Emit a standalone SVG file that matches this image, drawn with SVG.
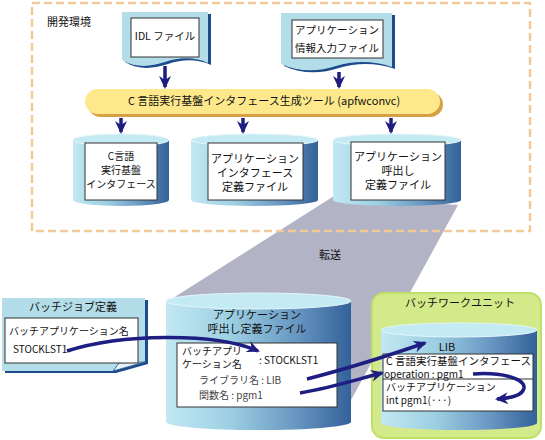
<svg xmlns="http://www.w3.org/2000/svg" width="545" height="440" viewBox="0 0 545 440">
<style>
text{font-family:"Noto Sans CJK JP","Noto Sans",sans-serif;fill:#111;}
.t11{font-size:11px;}
.t105{font-size:10.5px;}
.t10{font-size:10px;}
.mid{text-anchor:middle;}
.gray{fill:#444;}
.box{fill:#fff;stroke:#333;stroke-width:1;}
.docbg{fill:#b3dde8;}
.docsh{fill:#1d4b8c;}
.cylbody{fill:url(#cylGrad);}
.cyltop{fill:#c4eaf3;stroke:#e4f5f9;stroke-width:1;}
.arr{fill:none;stroke:#1e1e82;stroke-width:3.5;marker-end:url(#ah);}
</style>
<defs>
<linearGradient id="cylGrad" x1="0" y1="0" x2="1" y2="0">
<stop offset="0" stop-color="#c2e8f2"/>
<stop offset="0.35" stop-color="#9ccfe2"/>
<stop offset="0.7" stop-color="#6897c2"/>
<stop offset="1" stop-color="#33619a"/>
</linearGradient>
<marker id="ah" markerUnits="userSpaceOnUse" markerWidth="13" markerHeight="12" viewBox="0 0 13 12" refX="11" refY="6" orient="auto">
<path d="M0,0 L13,6 L0,12 L4,6 Z" fill="#1e1e82"/>
</marker>
</defs>

<polygon id="transfer-band" points="334,196 458,205 351,400 170,300" fill="#b3b3c6"/>

<g id="dev-env">
<rect x="32" y="3" width="498" height="228" fill="none" stroke="#f3c99a" stroke-width="2.5" stroke-dasharray="8,4"/>
<text x="47" y="26" class="t11">開発環境</text>
</g>

<g id="idl-file">
<path class="docsh" transform="translate(3,2)" d="M122,12 H208 V63 C195,57 180,57 165,62 C150,67 135,68 122,60 Z"/>
<path class="docbg" d="M122,12 H208 V63 C195,57 180,57 165,62 C150,67 135,68 122,60 Z"/>
<rect class="box" x="131" y="18" width="68" height="39"/>
<text x="165" y="40" class="t105 mid">IDL ファイル</text>
</g>

<g id="app-info-file">
<path class="docsh" transform="translate(3,2)" d="M281,13 H392 V67 C375,61 355,60 336,66 C318,72 298,72 281,64 Z"/>
<path class="docbg" d="M281,13 H392 V67 C375,61 355,60 336,66 C318,72 298,72 281,64 Z"/>
<rect class="box" x="292" y="20" width="91" height="38"/>
<text x="337" y="34" class="t105 mid">アプリケーション</text>
<text x="337" y="52" class="t105 mid">情報入力ファイル</text>
</g>

<g id="gen-tool">
<rect x="88" y="92" width="355" height="25" rx="12.5" fill="#d6a145"/>
<rect x="85" y="89" width="355" height="25" rx="12.5" fill="#fde98b"/>
<text x="264" y="105" class="t11 mid">C 言語実行基盤インタフェース生成ツール (apfwconvc)</text>
</g>

<g id="cyl-c-if">
<path class="cylbody" d="M73,140 V200 A48,6 0 0 0 169,200 V140 Z"/>
<ellipse class="cyltop" cx="121" cy="140" rx="48" ry="6"/>
<rect class="box" x="85" y="143" width="72" height="57"/>
<text x="121" y="160" class="t10 mid">C言語</text>
<text x="121" y="174" class="t10 mid">実行基盤</text>
<text x="121" y="188" class="t10 mid">インタフェース</text>
</g>

<g id="cyl-app-if">
<path class="cylbody" d="M191,140 V200 A63.5,6 0 0 0 318,200 V140 Z"/>
<ellipse class="cyltop" cx="254.5" cy="140" rx="63.5" ry="6"/>
<rect class="box" x="208" y="143" width="95" height="57"/>
<text x="255" y="163" class="t11 mid">アプリケーション</text>
<text x="255" y="177" class="t11 mid">インタフェース</text>
<text x="255" y="191" class="t11 mid">定義ファイル</text>
</g>

<g id="cyl-app-call">
<path class="cylbody" d="M333,140 V200 A64,6 0 0 0 461,200 V140 Z"/>
<ellipse class="cyltop" cx="397" cy="140" rx="64" ry="6"/>
<rect class="box" x="351" y="142" width="94" height="58"/>
<text x="398" y="161" class="t11 mid">アプリケーション</text>
<text x="398" y="175" class="t11 mid">呼出し</text>
<text x="398" y="189" class="t11 mid">定義ファイル</text>
</g>

<text x="330" y="259" class="t11 mid">転送</text>

<g id="batch-job-def">
<path class="docsh" transform="translate(3,2)" d="M2,298 H145 V362 L113,371 H2 Z"/>
<path class="docbg" d="M2,298 H145 V362 L113,371 H2 Z"/>
<path d="M113,371 L119,363 L145,362 Z" fill="#e6f4f8" stroke="#1d4b8c" stroke-width="0.8"/>
<text x="73" y="311" class="t11 mid">バッチジョブ定義</text>
<rect class="box" x="5" y="318" width="133" height="45"/>
<text x="9" y="335" class="t10">バッチアプリケーション名</text>
<text x="13" y="353" class="t10">STOCKLST1</text>
</g>

<g id="cyl-call-def">
<path class="cylbody" d="M166,301 V422 A92.5,8 0 0 0 351,422 V301 Z"/>
<ellipse class="cyltop" cx="258.5" cy="301" rx="92.5" ry="8"/>
<text x="257" y="319" class="t11 mid">アプリケーション</text>
<text x="257" y="333" class="t11 mid">呼出し定義ファイル</text>
<rect class="box" x="177" y="343" width="160" height="64"/>
<text x="182" y="355" class="t10">バッチアプリ</text>
<text x="182" y="368" class="t10">ケーション名</text>
<text x="259" y="364" class="t10">: STOCKLST1</text>
<text x="199" y="384" class="t10 gray">ライブラリ名 : LIB</text>
<text x="199" y="399" class="t10 gray">関数名 : pgm1</text>
</g>

<g id="batch-work-unit">
<rect x="372" y="293" width="169" height="145" rx="12" fill="#d3ea8a" stroke="#bde067" stroke-width="2"/>
<text x="460" y="307" class="t11 mid">バッチワークユニット</text>
<path class="cylbody" d="M381,330 V423 A78,7 0 0 0 537,423 V330 Z"/>
<ellipse class="cyltop" cx="459" cy="330" rx="78" ry="7"/>
<text x="447" y="351" class="t11 mid">LIB</text>
<rect class="box" x="383" y="354" width="150" height="57"/>
<line x1="383" y1="379" x2="533" y2="379" stroke="#333" stroke-width="1"/>
<text x="386" y="365" class="t105">C 言語実行基盤インタフェース</text>
<text x="384" y="377.5" class="t10">operation : pgm1</text>
<text x="386" y="391" class="t10">バッチアプリケーション</text>
<text x="386" y="404" class="t10">int pgm1(···)</text>
</g>

<g id="connectors">
<path class="arr" d="M165,66 V87"/>
<path class="arr" d="M339,72 V87"/>
<path class="arr" d="M121,118 V132"/>
<path class="arr" d="M243,118 V132"/>
<path class="arr" d="M391,118 V132"/>
<path class="arr" d="M67,351 C120,334 215,332 258,351"/>
<path class="arr" d="M307,379 C350,368 390,355 425,343"/>
<path class="arr" d="M300,393 C330,388 355,380 382,373"/>
<path class="arr" d="M473,374 C500,372 525,378 524,388 C523,396 510,398 497,399"/>
</g>
</svg>
